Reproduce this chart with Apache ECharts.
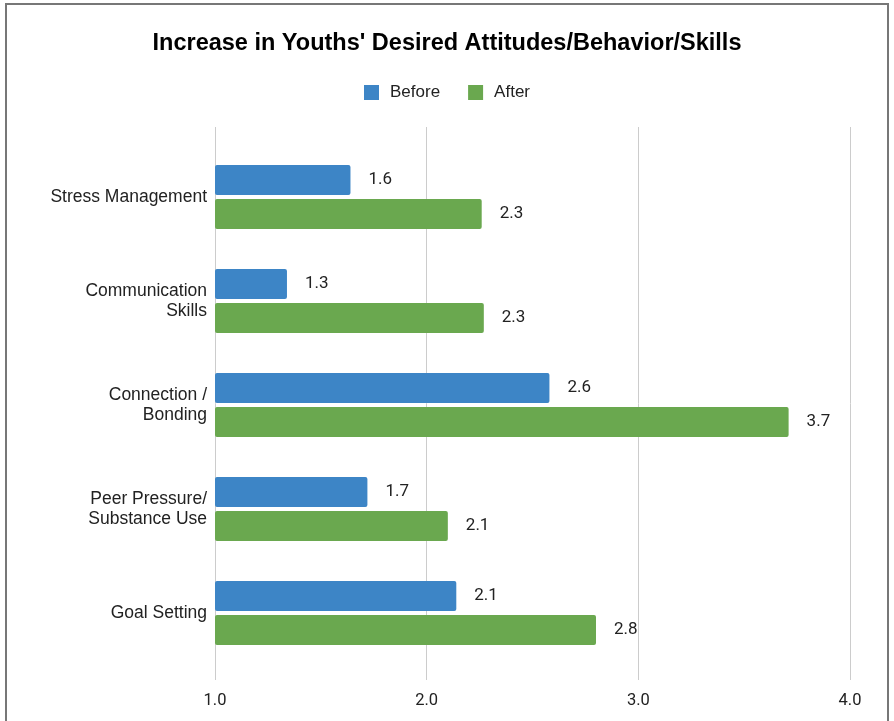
<!DOCTYPE html>
<html>
<head>
<meta charset="utf-8">
<script src="https://cdn.jsdelivr.net/npm/echarts@6/dist/echarts.min.js"></script>
<style>html,body{margin:0;padding:0;background:#fff}#c{width:894px;height:721px}</style>
</head>
<body>
<div id="c"></div>
<script>
const categories = ['Stress Management', 'Communication\nSkills', 'Connection /\nBonding', 'Peer Pressure/\nSubstance Use', 'Goal Setting'];
const beforeValues = [1.64, 1.34, 2.58, 1.72, 2.14];
const afterValues = [2.26, 2.27, 3.71, 2.10, 2.80];
const xTicks = [1, 2, 3, 4];

const chart = echarts.init(document.getElementById('c'), null, {renderer: 'canvas'});
const labelCfg = {
  show: true, position: 'right', distance: 18,
  color: '#222', fontSize: 17, fontFamily: 'Roboto',
  formatter: p => p.value.toFixed(1)
};
chart.setOption({
  backgroundColor: '#fff',
  animation: false,
  graphic: [{
    type: 'rect', silent: true, z: 100,
    shape: {x: 6, y: 4, width: 882, height: 740},
    style: {fill: 'none', stroke: '#777', lineWidth: 2}
  }],
  title: {
    text: "Increase in Youths' Desired Attitudes/Behavior/Skills",
    left: 'center', top: 27,
    textStyle: {fontFamily: 'Liberation Sans', fontWeight: 'bold', fontSize: 23.5, color: '#000'}
  },
  legend: {
    top: 79, left: 'center',
    itemWidth: 15, itemHeight: 15, itemGap: 28,
    icon: 'rect',
    textStyle: {fontFamily: 'Liberation Sans', fontSize: 17, color: '#222', padding: [0, 0, 0, 6]},
    data: ['Before', 'After']
  },
  grid: [
    {left: 215, right: 44, top: 145, bottom: 56},
    {left: 215, right: 44, top: 127, bottom: 41}
  ],
  xAxis: [
    {gridIndex: 0, type: 'value', min: xTicks[0], max: xTicks[xTicks.length - 1], interval: 1,
     axisLine: {show: false}, axisTick: {show: false}, axisLabel: {show: false}, splitLine: {show: false}},
    {gridIndex: 1, type: 'value', min: xTicks[0], max: xTicks[xTicks.length - 1], interval: 1,
     axisLine: {show: false}, axisTick: {show: false},
     axisLabel: {margin: 12, fontFamily: 'Roboto', fontSize: 16.5, color: '#222', formatter: v => v.toFixed(1)},
     splitLine: {show: true, lineStyle: {color: '#ccc', width: 1}}}
  ],
  yAxis: [
    {gridIndex: 0, type: 'category', data: categories, inverse: true,
     axisLine: {show: false}, axisTick: {show: false},
     axisLabel: {margin: 8, fontFamily: 'Liberation Sans', fontSize: 17.5, color: '#222', lineHeight: 20, align: 'right'}},
    {gridIndex: 1, type: 'category', data: categories, show: false}
  ],
  series: [
    {name: 'Before', type: 'bar', xAxisIndex: 0, yAxisIndex: 0, data: beforeValues,
     barWidth: 30, barGap: '13%', itemStyle: {color: '#3d85c6', borderRadius: 2}, label: labelCfg},
    {name: 'After', type: 'bar', xAxisIndex: 0, yAxisIndex: 0, data: afterValues,
     barWidth: 30, barGap: '13%', itemStyle: {color: '#6aa84f', borderRadius: 2}, label: labelCfg}
  ]
});
</script>
</body>
</html>
